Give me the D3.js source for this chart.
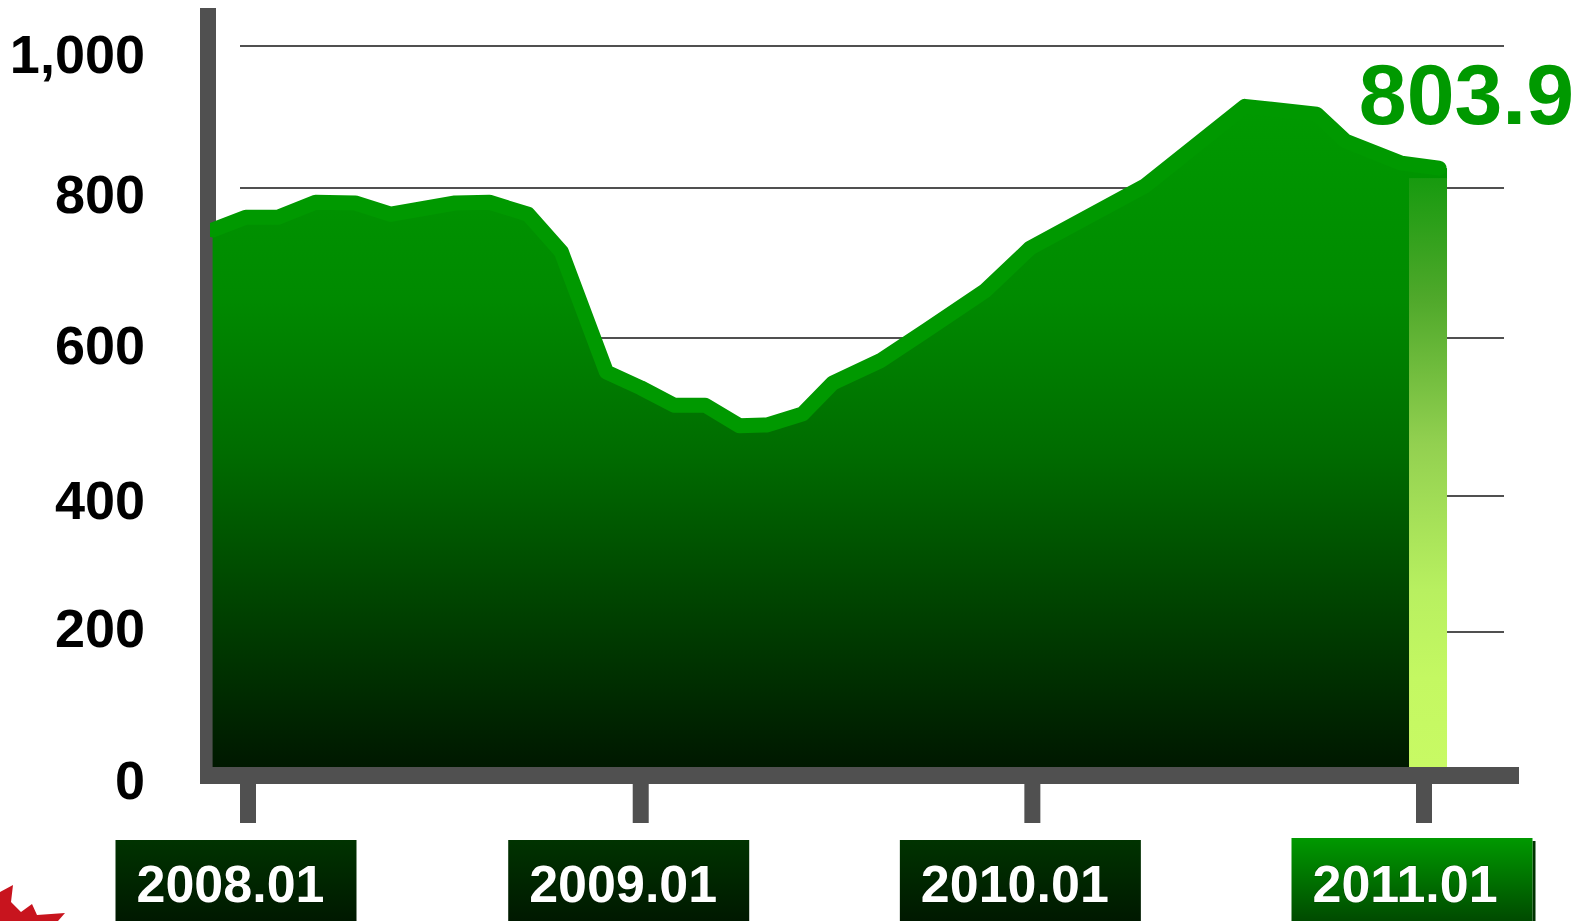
<!DOCTYPE html>
<html>
<head>
<meta charset="utf-8">
<script src="https://cdn.jsdelivr.net/npm/d3@7"></script>
<style>
  html, body { margin: 0; padding: 0; background: #ffffff; }
  svg { display: block; }
  text { font-family: "Liberation Sans", Arial, Helvetica, sans-serif; font-weight: bold; }
</style>
</head>
<body>
<script>
// ---------------- data ----------------
const dates = ["2007-11-29","2007-12-30","2008-01-29","2008-03-04","2008-04-10","2008-05-13",
  "2008-07-12","2008-08-13","2008-09-18","2008-10-19","2008-11-30","2009-01-01","2009-02-01",
  "2009-03-02","2009-04-03","2009-04-29","2009-06-01","2009-06-29","2009-08-12","2009-09-25",
  "2009-11-18","2009-12-30","2010-04-16","2010-07-18","2010-09-23","2010-10-20","2010-12-11",
  "2011-01-15"];
const values = [744,761,761,781,780,765,780,781,765,715,557,537,515,515,489,490,504,543,571,
  611,663,720,803,915,904,866,835,828];
const yTicks = [0, 200, 400, 600, 800, 1000];
const yTickLabels = ["0", "200", "400", "600", "800", "1,000"];
const xTickDates = ["2008-01-01", "2009-01-01", "2010-01-01", "2011-01-01"];
const xTickLabels = ["2008.01", "2009.01", "2010.01", "2011.01"];
const currentValueLabel = "803.9";

// ---------------- setup ----------------
const W = 1593, H = 921;
const parse = d3.timeParse("%Y-%m-%d");
const data = dates.map((d, i) => ({ date: parse(d), value: values[i] }));

const x = d3.scaleTime()
  .domain([parse("2008-01-01"), parse("2011-01-01")])
  .range([248, 1424]);
// the original chart's gridlines are unevenly spaced; a polylinear scale reproduces them
const y = d3.scaleLinear()
  .domain(yTicks)
  .range([767, 632, 496, 338, 188, 46]);
// baselines of the tick labels (placed independently of the gridlines in the original)
const yLabel = d3.scaleLinear()
  .domain(yTicks)
  .range([799, 647, 519, 364, 213, 73]);

const svg = d3.select("body").append("svg")
  .attr("width", W).attr("height", H)
  .attr("viewBox", `0 0 ${W} ${H}`);

const defs = svg.append("defs");

// area gradient
const ag = defs.append("linearGradient").attr("id", "areaGrad")
  .attr("gradientUnits", "userSpaceOnUse")
  .attr("x1", 0).attr("x2", 0).attr("y1", 98).attr("y2", y(0));
[[0, "#009a00"], [0.30, "#008a00"], [0.53, "#006c00"], [0.75, "#004400"], [1, "#001800"]]
  .forEach(([o, c]) => ag.append("stop").attr("offset", o).attr("stop-color", c));

// highlight bar gradient
const last = data[data.length - 1];
const lastX = x(last.date);
const barTop = y(last.value) + 10;
const bg = defs.append("linearGradient").attr("id", "barGrad")
  .attr("gradientUnits", "userSpaceOnUse")
  .attr("x1", 0).attr("x2", 0).attr("y1", barTop).attr("y2", y(0));
[[0, "#179a0f"], [0.2, "#4ea82a"], [0.45, "#92d050"], [0.7, "#b8f060"], [0.85, "#c4f862"], [1, "#c8fa64"]]
  .forEach(([o, c]) => bg.append("stop").attr("offset", o).attr("stop-color", c));

// label box gradients
const lg = defs.append("linearGradient").attr("id", "lblGrad").attr("x1", 0).attr("x2", 0).attr("y1", 0).attr("y2", 1);
lg.append("stop").attr("offset", 0).attr("stop-color", "#003300");
lg.append("stop").attr("offset", 1).attr("stop-color", "#001600");
const hg = defs.append("linearGradient").attr("id", "lblGradHi").attr("x1", 0).attr("x2", 0).attr("y1", 0).attr("y2", 1);
hg.append("stop").attr("offset", 0).attr("stop-color", "#009900");
hg.append("stop").attr("offset", 1).attr("stop-color", "#004400");

defs.append("clipPath").attr("id", "plotClip")
  .append("rect").attr("x", 210).attr("y", 0).attr("width", W).attr("height", H);

// ---------------- axes frame ----------------
const axisColor = "#505050";
svg.append("rect").attr("x", 200).attr("y", 8).attr("width", 16).attr("height", 776).attr("fill", axisColor);
svg.append("rect").attr("x", 200).attr("y", y(0)).attr("width", 1319).attr("height", 17).attr("fill", axisColor);

// gridlines
svg.append("g").selectAll("line").data(yTicks.filter(t => t > 0)).join("line")
  .attr("x1", 240).attr("x2", 1504)
  .attr("y1", d => y(d)).attr("y2", d => y(d))
  .attr("stroke", axisColor).attr("stroke-width", 2);

// y labels
svg.append("g").selectAll("text").data(yTicks).join("text")
  .attr("x", 145).attr("y", d => yLabel(d))
  .attr("text-anchor", "end")
  .attr("font-size", 54)
  .attr("fill", "#000")
  .text((d, i) => yTickLabels[i]);

// ---------------- area + line ----------------
const plot = svg.append("g").attr("clip-path", "url(#plotClip)");
plot.append("path").datum(data)
  .attr("d", d3.area().x(d => x(d.date)).y0(y(0)).y1(d => y(d.value)))
  .attr("fill", "url(#areaGrad)");
// fill under the rounded end of the line, above the highlight bar
plot.append("rect")
  .attr("x", lastX - 30).attr("y", y(last.value))
  .attr("width", 38).attr("height", barTop - y(last.value) + 1)
  .attr("fill", "url(#areaGrad)");
plot.append("path").datum(data)
  .attr("d", d3.line().x(d => x(d.date)).y(d => y(d.value)))
  .attr("fill", "none")
  .attr("stroke", "#009900")
  .attr("stroke-width", 15)
  .attr("stroke-linejoin", "round")
  .attr("stroke-linecap", "round");

// highlight bar for current value
svg.append("rect")
  .attr("x", lastX - 30).attr("y", barTop)
  .attr("width", 38).attr("height", y(0) - barTop)
  .attr("fill", "url(#barGrad)");

// current value label
svg.append("text")
  .attr("x", lastX + 135).attr("y", y(last.value) - 44)
  .attr("text-anchor", "end")
  .attr("font-size", 86)
  .attr("fill", "#009900")
  .text(currentValueLabel);

// ---------------- x ticks & labels ----------------
const xt = svg.append("g").selectAll("g").data(xTickDates).join("g");
xt.append("rect")
  .attr("x", d => x(parse(d)) - 8).attr("y", 784)
  .attr("width", 16).attr("height", 39)
  .attr("fill", axisColor);
xt.filter((d, i) => i === xTickDates.length - 1).append("rect")
  .attr("x", d => x(parse(d)) - 132.5 + 241).attr("y", 841)
  .attr("width", 3).attr("height", 90)
  .attr("fill", "#003300");
xt.append("rect")
  .attr("x", d => x(parse(d)) - 132.5)
  .attr("y", (d, i) => i === xTickDates.length - 1 ? 838 : 840)
  .attr("width", 241).attr("height", 90)
  .attr("fill", (d, i) => i === xTickDates.length - 1 ? "url(#lblGradHi)" : "url(#lblGrad)");
xt.append("text")
  .attr("x", d => x(parse(d)) - 132.5 + 21)
  .attr("y", 902)
  .attr("font-size", 52)
  .attr("fill", "#ffffff")
  .attr("stroke", "rgba(0,0,0,0.25)")
  .attr("stroke-width", 1)
  .attr("paint-order", "stroke")
  .text((d, i) => xTickLabels[i]);

// decorative maple leaf fragment (bottom-left corner)
svg.append("path")
  .attr("d", "M0,892 L13,885 L11,902 L21,912 L32,904 L37,915 L65,913 L58,921 L0,921 Z")
  .attr("fill", "#c8141e");
</script>
</body>
</html>
